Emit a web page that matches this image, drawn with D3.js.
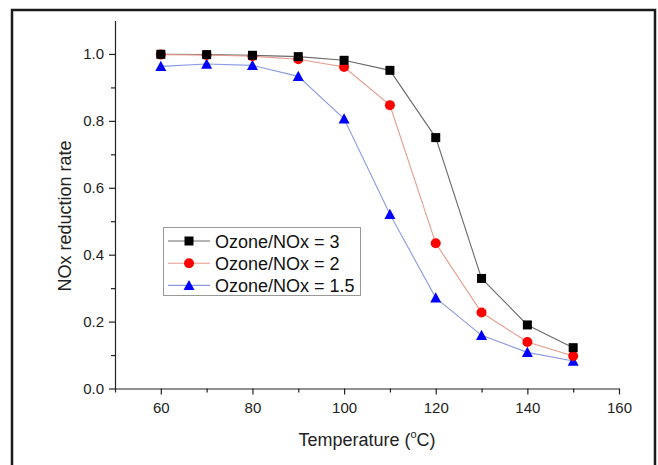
<!DOCTYPE html>
<html>
<head>
<meta charset="utf-8">
<script src="https://cdn.jsdelivr.net/npm/d3@7"></script>
<style>
html, body { margin: 0; padding: 0; background: #fff; }
svg { display: block; font-family: "Liberation Sans", Arial, sans-serif; }
</style>
</head>
<body>
<svg id="chart" width="658" height="465"></svg>
<script>
const temperatures = [60, 70, 80, 90, 100, 110, 120, 130, 140, 150];
const ratio3 = [0.999, 0.998, 0.996, 0.992, 0.981, 0.951, 0.750, 0.329, 0.190, 0.122];
const ratio2 = [0.998, 0.997, 0.993, 0.984, 0.961, 0.847, 0.434, 0.227, 0.139, 0.097];
const ratio15 = [0.963, 0.970, 0.966, 0.933, 0.806, 0.521, 0.271, 0.159, 0.108, 0.082];
const seriesNames = ["Ozone/NOx = 3", "Ozone/NOx = 2", "Ozone/NOx = 1.5"];
const xTicks = [60, 80, 100, 120, 140, 160];
const yTicks = [0.0, 0.2, 0.4, 0.6, 0.8, 1.0];

const series = [
  { name: seriesNames[0], values: ratio3, marker: "square", fill: "#000000", line: "#6a6a6a" },
  { name: seriesNames[1], values: ratio2, marker: "circle", fill: "#ff0000", line: "#e59a8c" },
  { name: seriesNames[2], values: ratio15, marker: "triangle", fill: "#0000ff", line: "#8c9ae0" }
];

const svg = d3.select("#chart");

// outer frame
svg.append("rect")
  .attr("x", 12).attr("y", 10).attr("width", 643).attr("height", 470)
  .attr("fill", "none").attr("stroke", "#1a1a1a").attr("stroke-width", 2.5);

const x = d3.scaleLinear().domain([50, 160]).range([115, 619]);
const y = d3.scaleLinear().domain([0, 1.1]).range([388.5, 20.5]);

const font = "Liberation Sans, Arial, sans-serif";

// minor ticks
const gxMinor = svg.append("g").attr("transform", "translate(0,388.5)")
  .call(d3.axisBottom(x).tickValues([50, 70, 90, 110, 130, 150]).tickSize(4).tickFormat(""));
const gyMinor = svg.append("g").attr("transform", "translate(115,0)")
  .call(d3.axisLeft(y).tickValues([0.1, 0.3, 0.5, 0.7, 0.9]).tickSize(4).tickFormat(""));

// major axes
const gx = svg.append("g").attr("transform", "translate(0,388.5)")
  .call(d3.axisBottom(x).tickValues(xTicks).tickSize(6).tickPadding(8).tickSizeOuter(0).tickFormat(d3.format("d")));
const gy = svg.append("g").attr("transform", "translate(115,0)")
  .call(d3.axisLeft(y).tickValues(yTicks).tickSize(6).tickPadding(5).tickSizeOuter(0).tickFormat(d3.format(".1f")));

[gxMinor, gyMinor].forEach(g => g.select(".domain").remove());
[gx, gy, gxMinor, gyMinor].forEach(g => {
  g.selectAll("line").attr("stroke", "#222").attr("stroke-width", 1.2);
  g.select(".domain").attr("stroke", "#222").attr("stroke-width", 1.2);
  g.selectAll("text").attr("fill", "#222").style("font-size", "15px").style("font-family", font);
});

// axis titles
svg.append("text")
  .attr("transform", "translate(71,216) rotate(-90)")
  .attr("text-anchor", "middle")
  .style("font-size", "18px").style("font-family", font).attr("fill", "#222")
  .text("NOx reduction rate");

const xt = svg.append("text")
  .attr("x", 367).attr("y", 446)
  .attr("text-anchor", "middle")
  .style("font-size", "18px").style("font-family", font).attr("fill", "#222");
xt.append("tspan").text("Temperature (");
xt.append("tspan").text("o").style("font-size", "11px").attr("dy", -8);
xt.append("tspan").text("C)").attr("dy", 8);

// series
const lineGen = d3.line().x((d, i) => x(temperatures[i])).y(d => y(d));

function drawMarker(g, type, cx, cy, fill) {
  if (type === "square") {
    g.append("rect").attr("x", cx - 4.5).attr("y", cy - 4.5).attr("width", 9).attr("height", 9).attr("fill", fill);
  } else if (type === "circle") {
    g.append("circle").attr("cx", cx).attr("cy", cy).attr("r", 5).attr("fill", fill);
  } else {
    const s = 5.5;
    g.append("path")
      .attr("d", `M${cx},${cy - s} L${cx + s},${cy + s * 0.85} L${cx - s},${cy + s * 0.85} Z`)
      .attr("fill", fill);
  }
}

series.forEach(s => {
  svg.append("path").datum(s.values)
    .attr("d", lineGen).attr("fill", "none").attr("stroke", s.line).attr("stroke-width", 1.1);
});
series.slice().reverse().forEach(s => {
  const g = svg.append("g");
  s.values.forEach((v, i) => drawMarker(g, s.marker, x(temperatures[i]), y(v), s.fill));
});

// legend
const leg = svg.append("g");
leg.append("rect").attr("x", 163.5).attr("y", 227.5).attr("width", 197).attr("height", 68)
  .attr("fill", "#fff").attr("stroke", "#999").attr("stroke-width", 1);
series.forEach((s, i) => {
  const cy = 241 + i * 22.2;
  leg.append("line").attr("x1", 168).attr("x2", 210).attr("y1", cy).attr("y2", cy)
    .attr("stroke", s.line).attr("stroke-width", 1.1);
  drawMarker(leg, s.marker, 189, cy, s.fill);
  leg.append("text").attr("x", 215).attr("y", cy + 6.5)
    .style("font-size", "18px").style("font-family", font).attr("fill", "#111")
    .text(s.name);
});
</script>
</body>
</html>
